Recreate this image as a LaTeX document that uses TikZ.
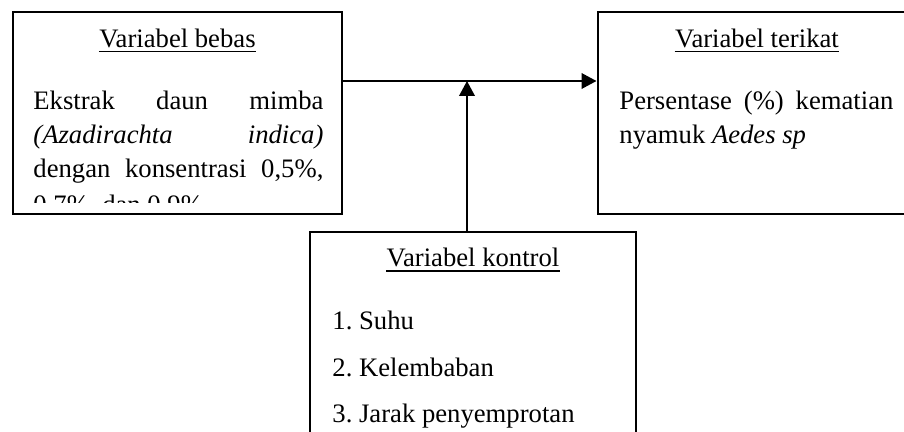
\documentclass[tikz,border=0pt]{standalone}
\usepackage{fontspec}
\setmainfont{Liberation Serif}
\usetikzlibrary{arrows.meta,fit}
\frenchspacing
\begin{document}
\begin{tikzpicture}[x=0.45pt,y=-0.45pt,
  font=\fontsize{12pt}{14pt}\selectfont,
  box/.style={draw, line width=0.9pt, inner sep=0pt},
  txt/.style={inner sep=0pt, anchor=base west},
  hdr/.style={inner sep=0pt, anchor=base},
  uline/.style={line width=0.55pt},
  arr/.style={line width=0.9pt, -{Triangle[length=6.75pt,width=7pt]}}]
\clip (0,0) rectangle (904,432);
\fill[white] (0,0) rectangle (904,432);
% boxes
\node[box, fit={(12.5,12.5) (342,214)}] (bebas) {};
\node[box, fit={(597.5,12.5) (915,214)}] (terikat) {};
\node[box, fit={(310,232) (636,460)}] (kontrol) {};
% headers
\node[hdr] (hb) at (177.5,47.5) {Variabel bebas};
\node[hdr] (ht) at (757,47.5) {Variabel terikat};
\node[hdr] (hk) at (473,267) {Variabel kontrol};
\foreach \h in {hb,ht,hk}{
  \draw[uline] ([yshift=-1.8pt]\h.base west) -- ([yshift=-1.8pt]\h.base east);
}
% left box text
\node[txt] (b1) at (33,110) {\makebox[130.5pt][s]{Ekstrak daun mimba}};
\node[txt] (b2) at (33,144) {\makebox[130.5pt][s]{\textit{(Azadirachta indica)}}};
\node[txt] (b3) at (33,178) {\makebox[130.5pt][s]{dengan konsentrasi 0,5\%,}};
\begin{scope}
  \clip (0,0) rectangle (904,203);
  \node[txt] (b4) at (33,214) {0,7\%\ \ dan 0,9\%};
\end{scope}
% right box text
\node[txt] (t1) at (619,110) {\makebox[123.3pt][s]{Persentase (\%) kematian}};
\node[txt] (t2) at (619,144) {nyamuk \textit{Aedes sp}};
% bottom box text
\node[txt] (k1) at (332,330) {1. Suhu};
\node[txt] (k2) at (332,377) {2. Kelembaban};
\node[txt] (k3) at (332,423) {3. Jarak penyemprotan};
% connectors
\coordinate (j) at (467,81);
\draw[arr] (bebas.east |- j) -- (terikat.west |- j);
\draw[arr] (kontrol.north -| j) -- (j);
\end{tikzpicture}
\end{document}
